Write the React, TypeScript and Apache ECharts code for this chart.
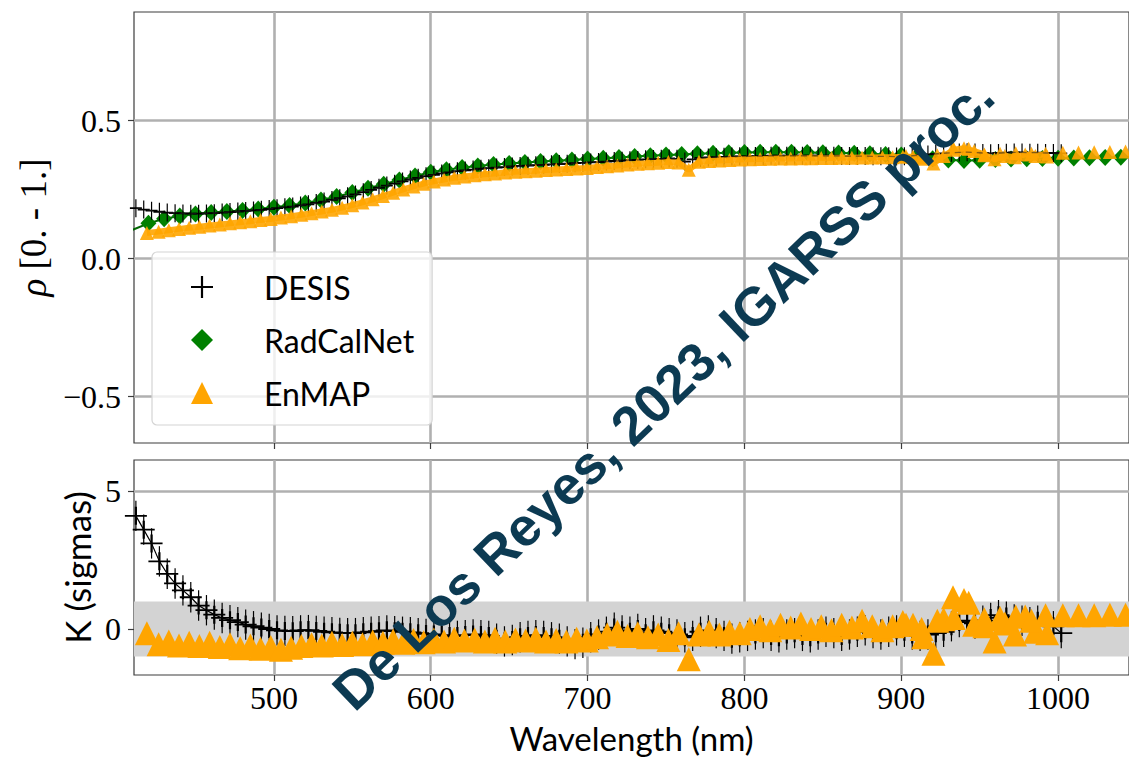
import React, { useEffect, useRef } from "react";
import * as echarts from "echarts";

// ---------- data ----------
const DESIS_WL = [
  412, 417, 422, 427, 432, 437, 442, 447, 452, 457,
  462, 467, 472, 477, 482, 487, 492, 497, 502, 507,
  512, 517, 522, 527, 532, 537, 542, 547, 552, 557,
  562, 567, 572, 577, 582, 587, 592, 597, 602, 607,
  612, 617, 622, 627, 632, 637, 642, 647, 652, 657,
  662, 667, 672, 677, 682, 687, 692, 697, 702, 707,
  712, 717, 722, 727, 732, 737, 742, 747, 752, 757,
  762, 767, 772, 777, 782, 787, 792, 797, 802, 807,
  812, 817, 822, 827, 832, 837, 842, 847, 852, 857,
  862, 867, 872, 877, 882, 887, 892, 897, 902, 907,
  912, 917, 922, 927, 932, 937, 942, 947, 952, 957,
  962, 967, 972, 977, 982, 987, 992, 997, 1002,
];
const DESIS_RHO = [
  0.183, 0.178, 0.174, 0.17, 0.167, 0.165, 0.164, 0.163, 0.163, 0.164,
  0.165, 0.167, 0.169, 0.171, 0.173, 0.175, 0.177, 0.18, 0.183, 0.186,
  0.189, 0.193, 0.197, 0.202, 0.207, 0.213, 0.219, 0.226, 0.233, 0.241,
  0.249, 0.257, 0.265, 0.272, 0.28, 0.287, 0.293, 0.299, 0.304, 0.309,
  0.313, 0.317, 0.32, 0.323, 0.326, 0.328, 0.33, 0.332, 0.334, 0.336,
  0.337, 0.339, 0.34, 0.342, 0.343, 0.344, 0.346, 0.347, 0.349, 0.35,
  0.352, 0.354, 0.355, 0.357, 0.358, 0.36, 0.361, 0.362, 0.363, 0.362,
  0.352, 0.36, 0.365, 0.367, 0.368, 0.369, 0.37, 0.371, 0.371, 0.372,
  0.372, 0.373, 0.373, 0.373, 0.373, 0.373, 0.373, 0.373, 0.373, 0.373,
  0.372, 0.372, 0.372, 0.372, 0.371, 0.371, 0.371, 0.37, 0.371, 0.373,
  0.376, 0.378, 0.38, 0.382, 0.384, 0.385, 0.386, 0.385, 0.383, 0.382,
  0.383, 0.384, 0.385, 0.385, 0.384, 0.384, 0.383, 0.383, 0.382,
];
const DESIS_K = [
  4.1, 3.6, 3.1, 2.45, 2.0, 1.65, 1.4, 1.15, 0.85, 0.68,
  0.52, 0.4, 0.32, 0.25, 0.16, 0.1, 0.05, 0.0, -0.05, -0.07,
  -0.08, -0.05, -0.04, -0.07, -0.1, -0.12, -0.14, -0.15, -0.15, -0.12,
  -0.1, -0.08, -0.05, -0.08, -0.1, -0.12, -0.15, -0.18, -0.2, -0.22,
  -0.25, -0.25, -0.22, -0.2, -0.22, -0.25, -0.35, -0.45, -0.4, -0.3,
  -0.25, -0.22, -0.25, -0.3, -0.35, -0.45, -0.55, -0.5, -0.3, -0.2,
  -0.1, 0.05, -0.05, -0.1, 0.0, -0.15, -0.05, -0.1, -0.15, -0.2,
  -0.3, -0.25, -0.1, -0.05, -0.15, -0.25, -0.35, -0.3, -0.25, -0.2,
  -0.15, -0.25, -0.3, -0.2, -0.15, -0.25, -0.3, -0.2, -0.1, -0.15,
  -0.25, -0.2, -0.1, -0.05, -0.15, -0.2, -0.1, -0.05, -0.1, -0.2,
  -0.25, -0.2, -0.15, -0.1, 0.1, 0.25, 0.3, 0.2, 0.3, 0.4,
  0.5, 0.45, 0.35, 0.3, 0.25, 0.3, 0.2, 0.1, -0.15,
];
const DESIS_K_ERR = 0.55;

const RCN_WL = [
  410, 420, 430, 440, 450, 460, 470, 480, 490, 500,
  510, 520, 530, 540, 550, 560, 570, 580, 590, 600,
  610, 620, 630, 640, 650, 660, 670, 680, 690, 700,
  710, 720, 730, 740, 750, 760, 770, 780, 790, 800,
  810, 820, 830, 840, 850, 860, 870, 880, 890, 900,
  910, 920, 930, 940, 950, 960, 970, 980, 990, 1000,
  1010, 1020, 1030, 1040, 1050,
];
const RCN_RHO = [
  0.105, 0.128, 0.145, 0.155, 0.162, 0.167, 0.171, 0.175, 0.18, 0.186,
  0.193, 0.202, 0.213, 0.225, 0.24, 0.255, 0.27, 0.285, 0.3, 0.313,
  0.322, 0.33, 0.336, 0.341, 0.345, 0.349, 0.352, 0.355, 0.358, 0.361,
  0.364, 0.367, 0.37, 0.373, 0.376, 0.378, 0.38, 0.382, 0.384, 0.385,
  0.386, 0.386, 0.386, 0.385, 0.384, 0.383, 0.382, 0.38, 0.378, 0.376,
  0.37, 0.362, 0.358, 0.356, 0.357, 0.359, 0.361, 0.362, 0.363, 0.364,
  0.365, 0.366, 0.367, 0.368, 0.369,
];

// EnMAP: VNIR bands (first 89) followed by SWIR bands
const EN_WL = [
  419, 426.5, 433, 439.5, 446, 452.5, 459, 465.5, 472, 478.5,
  485, 491.5, 498, 504.5, 511, 517.5, 524, 530.5, 537, 543.5,
  550, 556.5, 563, 569.5, 576, 582.5, 589, 595.5, 602, 608.5,
  615, 621.5, 628, 634.5, 641, 647.5, 654, 660.5, 667, 673.5,
  680, 686.5, 693, 699.5, 706, 712.5, 719, 725.5, 732, 738.5,
  745, 751.5, 758, 764.5, 771, 777.5, 784, 790.5, 797, 803.5,
  810, 816.5, 823, 829.5, 836, 842.5, 849, 855.5, 862, 868.5,
  875, 881.5, 888, 894.5, 901, 907.5, 914, 920.5, 927, 933.5,
  940, 946.5, 953, 959.5, 966, 972.5, 979, 985.5, 992,
  903, 913, 923, 933, 943, 953, 963, 973, 983, 993,
  1003, 1013, 1023, 1033, 1043,
];
const EN_VNIR_COUNT = 89;
const EN_RHO = [
  0.093, 0.098, 0.103, 0.108, 0.112, 0.116, 0.12, 0.124, 0.128, 0.132,
  0.136, 0.14, 0.144, 0.149, 0.154, 0.159, 0.165, 0.171, 0.177, 0.185,
  0.194, 0.204, 0.215, 0.227, 0.239, 0.251, 0.262, 0.272, 0.28, 0.287,
  0.293, 0.298, 0.302, 0.306, 0.309, 0.312, 0.315, 0.317, 0.319, 0.321,
  0.323, 0.325, 0.327, 0.329, 0.332, 0.335, 0.338, 0.341, 0.344, 0.346,
  0.348, 0.35, 0.349, 0.322, 0.351, 0.354, 0.356, 0.358, 0.359, 0.36,
  0.361, 0.362, 0.363, 0.363, 0.364, 0.364, 0.365, 0.365, 0.366, 0.366,
  0.367, 0.367, 0.368, 0.368, 0.369, 0.369, 0.362, 0.345, 0.372, 0.395,
  0.4, 0.39, 0.378, 0.36, 0.372, 0.368, 0.378, 0.372, 0.38,
  0.372, 0.368, 0.375, 0.402, 0.398, 0.375, 0.38, 0.382, 0.38, 0.37,
  0.384, 0.385, 0.386, 0.387, 0.388,
];
const EN_K = [
  -0.15, -0.55, -0.45, -0.6, -0.5, -0.62, -0.5, -0.65, -0.55, -0.7,
  -0.6, -0.72, -0.65, -0.75, -0.68, -0.62, -0.55, -0.6, -0.5, -0.58,
  -0.5, -0.55, -0.45, -0.5, -0.42, -0.5, -0.4, -0.48, -0.38, -0.45,
  -0.35, -0.42, -0.38, -0.45, -0.35, -0.45, -0.38, -0.42, -0.35, -0.45,
  -0.4, -0.45, -0.35, -0.42, -0.3, -0.2, -0.1, -0.25, -0.15, -0.3,
  -0.2, -0.4, -0.15, -1.1, -0.2, -0.1, -0.2, -0.1, -0.15, 0.0,
  0.1, -0.05, 0.15, 0.05, 0.2, 0.0, 0.1, -0.05, 0.15, 0.05,
  0.3, 0.1, -0.05, 0.1, 0.25, 0.15, -0.3, -0.9, 0.35, 0.4,
  1.05, 0.15, 0.35, -0.45, 0.2, -0.2, 0.45, -0.1, 0.5,
  0.15, 0.0, 0.3, 1.15, 0.95, 0.1, 0.4, 0.45, 0.3, -0.15,
  0.5, 0.5, 0.5, 0.52, 0.52,
];

const X_TICKS = [500, 600, 700, 800, 900, 1000];
const RHO_TICKS = [-0.5, 0, 0.5];
const K_TICKS = [0, 5];
const K_BAND = [-1, 1];
const X_RANGE = [410.8, 1045.2];
const RHO_RANGE = [-0.668, 0.894];
const K_RANGE = [-1.667, 6.123];

const WATERMARK = "De Los Reyes, 2023, IGARSS proc.";

// ---------- helpers ----------
const zip = (xs: number[], ys: number[]) => xs.map((x, i) => [x, ys[i]]);
const PLUS =
  "path://M-1,-0.1L-0.1,-0.1L-0.1,-1L0.1,-1L0.1,-0.1L1,-0.1L1,0.1L0.1,0.1L0.1,1L-0.1,1L-0.1,0.1L-1,0.1Z";

const SERIF = "Liberation Serif";
const SANS = "Lato";
const GRID_COLOR = "#b0b0b0";
const SPINE = "#3c3c3c";
const GREEN = "#008000";
const ORANGE = "#ffa500";

function xAxis(gridIndex: number, showLabels: boolean) {
  return {
    type: "value",
    gridIndex,
    min: X_RANGE[0],
    max: X_RANGE[1],
    axisLine: { show: false, onZero: false },
    axisTick: {
      show: true,
      customValues: X_TICKS,
      length: 6,
      lineStyle: { color: SPINE, width: 1.2 },
    },
    axisLabel: {
      show: showLabels,
      customValues: X_TICKS,
      margin: 7,
      fontFamily: SERIF,
      fontSize: 32,
      color: "#000",
      formatter: (v: number) => String(Math.round(v)),
    },
    splitLine: { show: true, lineStyle: { color: GRID_COLOR, width: 2.6 } },
    ...(showLabels
      ? {
          name: "Wavelength (nm)",
          nameLocation: "middle",
          nameGap: 46,
          nameTextStyle: { fontFamily: SANS, fontSize: 33, color: "#000" },
        }
      : {}),
  };
}

export default function App() {
  const ref = useRef<HTMLDivElement>(null);

  useEffect(() => {
    document.body.style.margin = "0";
    const chart = echarts.init(ref.current!, null, { renderer: "svg" });

    const enVnirRho = zip(EN_WL, EN_RHO).slice(0, EN_VNIR_COUNT);

    const option: any = {
      animation: false,
      backgroundColor: "#fff",
      grid: [
        { left: 134, top: 12, width: 996, height: 431, show: true, borderColor: SPINE, borderWidth: 1.2, backgroundColor: "transparent" },
        { left: 134, top: 460, width: 996, height: 215, show: true, borderColor: SPINE, borderWidth: 1.2, backgroundColor: "transparent" },
      ],
      xAxis: [xAxis(0, false), xAxis(1, true)],
      yAxis: [
        {
          type: "value",
          gridIndex: 0,
          min: RHO_RANGE[0],
          max: RHO_RANGE[1],
          axisLine: { show: false },
          axisTick: { show: true, customValues: RHO_TICKS, length: 6, lineStyle: { color: SPINE, width: 1.2 } },
          axisLabel: {
            customValues: RHO_TICKS,
            margin: 13,
            fontFamily: SERIF,
            fontSize: 32,
            color: "#000",
            formatter: (v: number) => (v < 0 ? "\u2212" : "") + Math.abs(v).toFixed(1),
          },
          splitLine: { show: true, lineStyle: { color: GRID_COLOR, width: 2.6 } },
          name: "{r|\u03c1} [0. - 1.]",
          nameLocation: "middle",
          nameGap: 80,
          nameRotate: 90,
          nameTextStyle: {
            fontFamily: SERIF,
            fontSize: 37,
            color: "#000",
            rich: { r: { fontFamily: SERIF, fontSize: 37, fontStyle: "italic", color: "#000" } },
          },
        },
        {
          type: "value",
          gridIndex: 1,
          min: K_RANGE[0],
          max: K_RANGE[1],
          axisLine: { show: false },
          axisTick: { show: true, customValues: K_TICKS, length: 6, lineStyle: { color: SPINE, width: 1.2 } },
          axisLabel: {
            customValues: K_TICKS,
            margin: 13,
            fontFamily: SERIF,
            fontSize: 32,
            color: "#000",
            formatter: (v: number) => String(v),
          },
          splitLine: { show: true, lineStyle: { color: GRID_COLOR, width: 2.6 } },
          name: "K (sigmas)",
          nameLocation: "middle",
          nameGap: 36,
          nameRotate: 90,
          nameTextStyle: { fontFamily: SANS, fontSize: 35, color: "#000" },
        },
      ],
      legend: {
        orient: "vertical",
        left: 152,
        top: 252,
        padding: [17, 18, 14, 39],
        itemWidth: 22,
        itemHeight: 22,
        itemGap: 17,
        backgroundColor: "rgba(255,255,255,0.8)",
        borderColor: "#d4d4d4",
        borderWidth: 1.2,
        borderRadius: 5,
        textStyle: { fontFamily: SANS, fontSize: 32, color: "#000", lineHeight: 36, padding: [0, 0, 0, 46] },
        data: [
          { name: "DESIS", icon: PLUS, itemStyle: { color: "#000", opacity: 1 } },
          { name: "RadCalNet", icon: "diamond", itemStyle: { color: GREEN, opacity: 1 } },
          { name: "EnMAP", icon: "triangle", itemStyle: { color: ORANGE, opacity: 1 } },
        ],
      },
      series: [
        // ---- top panel ----
        {
          name: "RadCalNet",
          type: "scatter",
          xAxisIndex: 0,
          yAxisIndex: 0,
          symbol: "diamond",
          symbolSize: [16, 17],
          itemStyle: { color: GREEN, opacity: 1 },
          data: zip(RCN_WL, RCN_RHO),
          z: 3,
        },
        {
          name: "RadCalNet",
          type: "line",
          xAxisIndex: 0,
          yAxisIndex: 0,
          showSymbol: false,
          lineStyle: { color: "#006400", width: 2 },
          itemStyle: { color: GREEN },
          data: zip(RCN_WL, RCN_RHO),
          z: 3,
        },
        {
          name: "DESIS",
          type: "scatter",
          xAxisIndex: 0,
          yAxisIndex: 0,
          symbol: PLUS,
          symbolSize: [12, 18],
          itemStyle: { color: "#000", opacity: 1 },
          data: zip(DESIS_WL, DESIS_RHO),
          z: 4,
        },
        {
          name: "EnMAP",
          type: "line",
          xAxisIndex: 0,
          yAxisIndex: 0,
          showSymbol: false,
          lineStyle: { color: ORANGE, width: 6, opacity: 0.9 },
          itemStyle: { color: ORANGE },
          data: enVnirRho,
          z: 5,
        },
        {
          name: "EnMAP",
          type: "scatter",
          xAxisIndex: 0,
          yAxisIndex: 0,
          symbol: "triangle",
          symbolSize: 14,
          itemStyle: { color: ORANGE, opacity: 0.9 },
          data: zip(EN_WL, EN_RHO),
          z: 5,
        },
        {
          name: "DESIS",
          type: "line",
          xAxisIndex: 0,
          yAxisIndex: 0,
          showSymbol: false,
          lineStyle: { color: "#222", width: 1.3, type: [6, 5], opacity: 0.55 },
          itemStyle: { color: "#000" },
          data: zip(DESIS_WL, DESIS_RHO),
          z: 6,
        },
        // ---- bottom panel ----
        {
          type: "line",
          xAxisIndex: 1,
          yAxisIndex: 1,
          data: [],
          silent: true,
          z: -1,
          markArea: {
            silent: true,
            itemStyle: { color: "#d3d3d3", opacity: 1 },
            data: [[{ yAxis: K_BAND[0] }, { yAxis: K_BAND[1] }]],
          },
        },
        {
          name: "DESIS",
          type: "custom",
          xAxisIndex: 1,
          yAxisIndex: 1,
          data: zip(DESIS_WL, DESIS_K),
          encode: { x: 0, y: 1 },
          renderItem: (params: any, api: any) => {
            const x = api.value(0);
            const y = api.value(1);
            const p1 = api.coord([x, y - DESIS_K_ERR]);
            const p2 = api.coord([x, y + DESIS_K_ERR]);
            return {
              type: "line",
              shape: { x1: p1[0], y1: p1[1], x2: p2[0], y2: p2[1] },
              style: { stroke: "#000", lineWidth: 1.2 },
            };
          },
          z: 3,
        },
        {
          name: "DESIS",
          type: "line",
          xAxisIndex: 1,
          yAxisIndex: 1,
          showSymbol: false,
          lineStyle: { color: "#000", width: 1.2 },
          itemStyle: { color: "#000" },
          data: zip(DESIS_WL, DESIS_K),
          z: 3,
        },
        {
          name: "DESIS",
          type: "scatter",
          xAxisIndex: 1,
          yAxisIndex: 1,
          symbol: PLUS,
          symbolSize: [22, 18],
          itemStyle: { color: "#000", opacity: 1 },
          data: zip(DESIS_WL, DESIS_K),
          z: 3,
        },
        {
          name: "EnMAP",
          type: "scatter",
          xAxisIndex: 1,
          yAxisIndex: 1,
          symbol: "triangle",
          symbolSize: 24,
          itemStyle: { color: ORANGE, opacity: 1 },
          data: zip(EN_WL, EN_K),
          z: 5,
        },
      ],
      graphic: [
        {
          type: "text",
          x: 663,
          y: 393,
          rotation: (43.6 * Math.PI) / 180,
          z: 100,
          silent: true,
          style: {
            text: WATERMARK,
            fontFamily: "Liberation Sans",
            fontWeight: "bold",
            fontSize: 54,
            fill: "#0c3a52",
            align: "center",
            verticalAlign: "middle",
          },
        },
      ],
    };

    chart.setOption(option);
    return () => chart.dispose();
  }, []);

  return <div ref={ref} style={{ width: 1129, height: 759 }} />;
}
